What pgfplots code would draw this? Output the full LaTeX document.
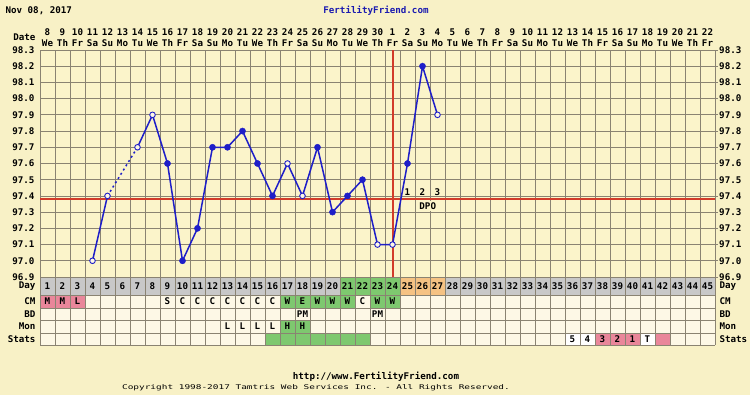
\documentclass[border=0pt]{standalone}
\usepackage{fontspec}
\setmainfont{DejaVu Sans Mono}
\newfontfamily\cfont[FakeStretch=1.45]{DejaVu Sans Mono}
\usepackage{pgfplots}
\pgfplotsset{compat=1.18}
\definecolor{pagebg}{HTML}{F8F1C6}
\definecolor{plotbg}{HTML}{FBF4CA}
\definecolor{rowbg}{HTML}{FDF8E6}
\definecolor{gridc}{HTML}{8A8372}
\definecolor{dayg}{HTML}{C8C8C8}
\definecolor{grn}{HTML}{7EC86F}
\definecolor{org}{HTML}{F5C283}
\definecolor{pnk}{HTML}{E9869A}
\definecolor{redl}{HTML}{D23C2A}
\definecolor{bluel}{HTML}{1E1EC8}
\definecolor{ffblue}{HTML}{1A1AB0}
\begin{document}
\begin{tikzpicture}[x=1pt,y=1pt,font=\fontsize{9.2}{10}\selectfont\bfseries]
\fill[pagebg] (0,0) rectangle (750,395);
\useasboundingbox (0,0) rectangle (750,395);
% ---------- header ----------
\node[anchor=west] at (2,384) {Nov 08, 2017};
\node[text=ffblue] at (376,384) {FertilityFriend.com};
\node[anchor=east] at (39,358) {Date};
\foreach \d/\n/\w in {1/8/We,2/9/Th,3/10/Fr,4/11/Sa,5/12/Su,6/13/Mo,7/14/Tu,8/15/We,9/16/Th,10/17/Fr,11/18/Sa,12/19/Su,13/20/Mo,14/21/Tu,15/22/We,16/23/Th,17/24/Fr,18/25/Sa,19/26/Su,20/27/Mo,21/28/Tu,22/29/We,23/30/Th,24/1/Fr,25/2/Sa,26/3/Su,27/4/Mo,28/5/Tu,29/6/We,30/7/Th,31/8/Fr,32/9/Sa,33/10/Su,34/11/Mo,35/12/Tu,36/13/We,37/14/Th,38/15/Fr,39/16/Sa,40/17/Su,41/18/Mo,42/19/Tu,43/20/We,44/21/Th,45/22/Fr}{
  \node at ({32.5+15*\d},363) {\n};
  \node at ({32.5+15*\d},352) {\w};
}
% ---------- rows below ----------
\fill[rowbg] (40,50) rectangle (715,100);
\fill[dayg] (40,100) rectangle (715,118);
\foreach \d in {21,22,23,24} \fill[grn] ({25+15*\d},100) rectangle ({40+15*\d},118);
\foreach \d in {25,26,27} \fill[org] ({25+15*\d},100) rectangle ({40+15*\d},118);
\foreach \d in {1,2,3} \fill[pnk] ({25+15*\d},87) rectangle ({40+15*\d},100);
\foreach \d in {17,18,19,20,21,23,24} \fill[grn] ({25+15*\d},87) rectangle ({40+15*\d},100);
\foreach \d in {17,18} \fill[grn] ({25+15*\d},62) rectangle ({40+15*\d},75);
\foreach \d in {16,17,18,19,20,21,22} \fill[grn] ({25+15*\d},50) rectangle ({40+15*\d},62);
\foreach \d in {38,39,40,42} \fill[pnk] ({25+15*\d},50) rectangle ({40+15*\d},62);
\foreach \d in {36,37,41} \fill[white] ({25+15*\d},50) rectangle ({40+15*\d},62);
\foreach \d in {0,...,45} \draw[gridc, line width=0.8pt] ({40+15*\d},50) -- ({40+15*\d},118);
\foreach \y in {50,62,75,87,100,118} \draw[gridc, line width=0.8pt] (40,\y) -- (715,\y);
\foreach \y/\t in {109/Day,93.5/CM,81/BD,68.5/Mon,56/Stats}{
  \node[anchor=east] at (39,\y) {\t};
  \node[anchor=west] at (716,\y) {\t};
}
\foreach \d in {1,...,45} \node at ({32.5+15*\d},109) {\d};
\foreach \d/\t in {1/M,2/M,3/L,9/S,10/C,11/C,12/C,13/C,14/C,15/C,16/C,17/W,18/E,19/W,20/W,21/W,22/C,23/W,24/W}
  \node at ({32.5+15*\d},93.5) {\t};
\foreach \d/\t in {18/PM,23/PM} \node at ({32.5+15*\d},81) {\t};
\foreach \d/\t in {13/L,14/L,15/L,16/L,17/H,18/H} \node at ({32.5+15*\d},68.5) {\t};
\foreach \d/\t in {36/5,37/4,38/3,39/2,40/1,41/T} \node at ({32.5+15*\d},56) {\t};
% ---------- footer ----------
\node at (376,18) {http://www.FertilityFriend.com};
\node at (316,7) {\cfont\mdseries\fontsize{6.5}{7}\selectfont Copyright 1998-2017 Tamtris Web Services Inc. - All Rights Reserved.};
% ---------- temperature axis ----------
\begin{axis}[at={(40pt,118pt)}, anchor=south west, scale only axis,
  width=675pt, height=227pt,
  xmin=0.5, xmax=45.5, ymin=96.9, ymax=98.3,
  axis background/.style={fill=plotbg},
  xtick={0.5,1.5,...,45.5}, xticklabels={},
  ytick={96.9,97.0,97.1,97.2,97.3,97.4,97.5,97.6,97.7,97.8,97.9,98.0,98.1,98.2,98.3},
  /pgf/number format/assume math mode=true,
  yticklabel={\pgfmathprintnumber[fixed,fixed zerofill,precision=1]{\tick}},
  yticklabel style={xshift=-2pt},
  grid=major, major grid style={gridc, line width=0.8pt},
  axis line style={gridc, line width=0.8pt},
  tick style={draw=none},
  clip=false]
\addplot[redl, line width=2pt] coordinates {(0.5,97.38) (45.5,97.38)};
\addplot[redl, line width=2pt] coordinates {(24,96.9) (24,98.3)};
\addplot[bluel, line width=1.5pt] coordinates {(4,97.0) (5,97.4)};
\addplot[bluel, line width=1.5pt, dash pattern=on 2pt off 3pt] coordinates {(5,97.4) (7,97.7)};
\addplot[bluel, line width=1.5pt] coordinates {(7,97.7) (8,97.9) (9,97.6) (10,97.0) (11,97.2) (12,97.7) (13,97.7) (14,97.8) (15,97.6) (16,97.4) (17,97.6) (18,97.4) (19,97.7) (20,97.3) (21,97.4) (22,97.5) (23,97.1) (24,97.1) (25,97.6) (26,98.2) (27,97.9)};
\addplot[only marks, mark=*, mark size=3.1pt, bluel] coordinates {(9,97.6) (10,97.0) (11,97.2) (12,97.7) (13,97.7) (14,97.8) (15,97.6) (16,97.4) (19,97.7) (20,97.3) (21,97.4) (22,97.5) (25,97.6) (26,98.2)};
\addplot[only marks, mark=*, mark size=2.8pt, mark options={draw=bluel, fill=rowbg, line width=0.9pt}] coordinates {(4,97.0) (5,97.4) (7,97.7) (8,97.9) (17,97.6) (18,97.4) (23,97.1) (24,97.1) (27,97.9)};
\node at (axis cs:25,97.426) {1};
\node at (axis cs:26,97.426) {2};
\node at (axis cs:27,97.426) {3};
\node[fill=plotbg, inner sep=1.5pt] at (axis cs:26.35,97.34) {DPO};
\end{axis}
\begin{axis}[at={(40pt,118pt)}, anchor=south west, scale only axis,
  width=675pt, height=227pt,
  xmin=0.5, xmax=45.5, ymin=96.9, ymax=98.3,
  axis x line=none, axis y line*=right, y axis line style={draw=none},
  ytick={96.9,97.0,97.1,97.2,97.3,97.4,97.5,97.6,97.7,97.8,97.9,98.0,98.1,98.2,98.3},
  /pgf/number format/assume math mode=true,
  yticklabel={\pgfmathprintnumber[fixed,fixed zerofill,precision=1]{\tick}},
  yticklabel style={inner sep=1pt},
  major tick length=3pt, tick align=outside,
  ytick style={gridc, line width=0.8pt}]
\end{axis}
\end{tikzpicture}
\end{document}
